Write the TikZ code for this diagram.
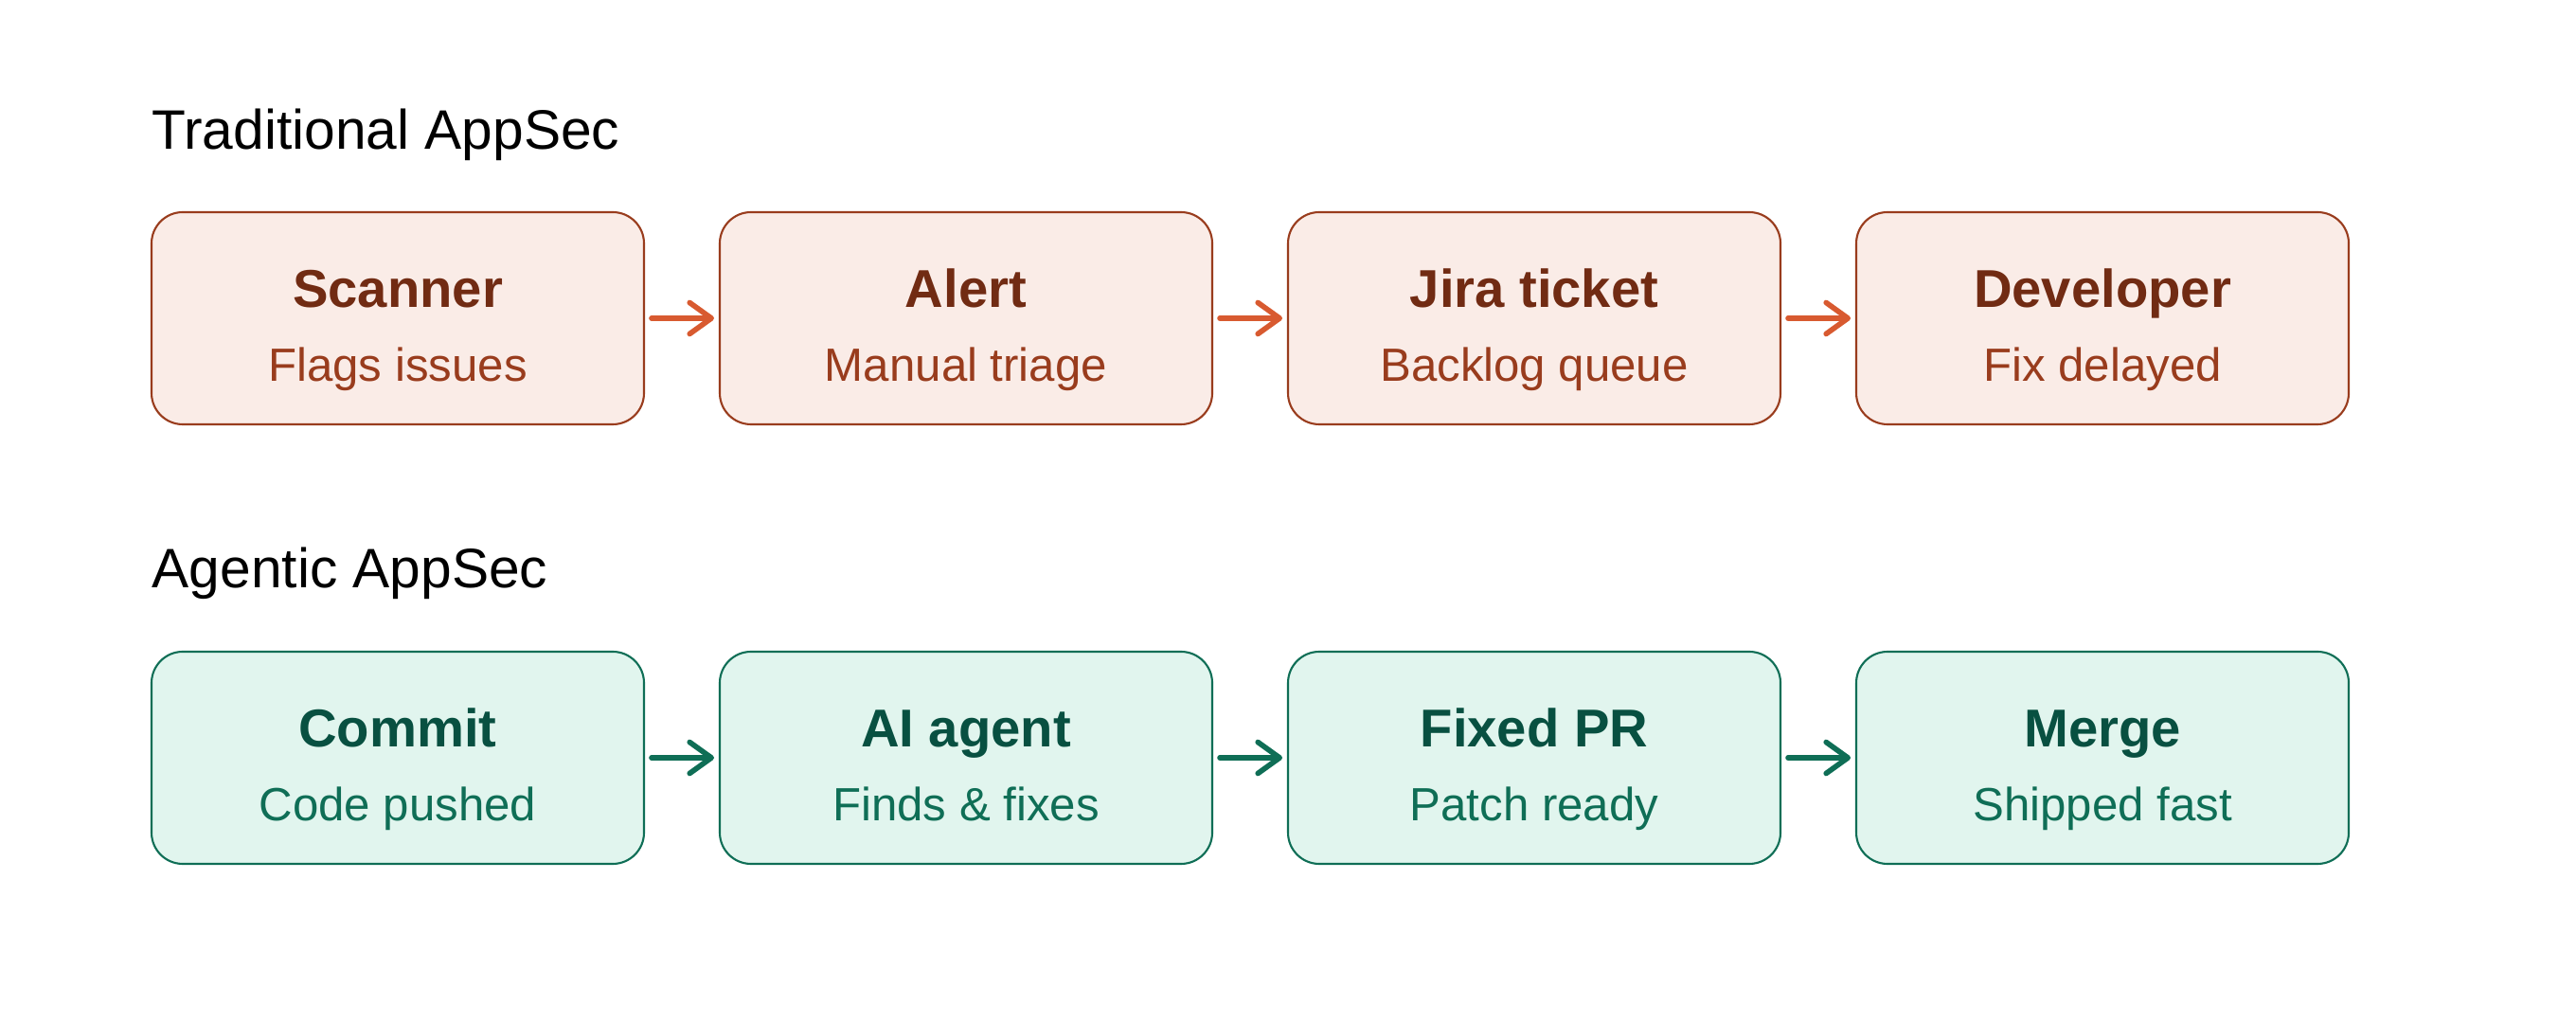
\documentclass[tikz,border=0pt]{standalone}
\usepackage{fontspec}
\setmainfont{Liberation Sans}
\usetikzlibrary{positioning,arrows.meta}
\definecolor{coralfill}{HTML}{FAECE7}
\definecolor{coralline}{HTML}{993C1D}
\definecolor{coraldark}{HTML}{712B13}
\definecolor{coralarrow}{HTML}{D85A30}
\definecolor{tealfill}{HTML}{E1F5EE}
\definecolor{tealline}{HTML}{0F6E56}
\definecolor{tealdark}{HTML}{085041}

\begin{document}
\begin{tikzpicture}[
        box/.style={rectangle, rounded corners=0.33cm, line width=0.6pt, outer sep=0pt, minimum width=5.2cm, minimum height=2.24cm},
        oldbox/.style={box, draw=coralline, fill=coralfill},
        newbox/.style={box, draw=tealline, fill=tealfill},
        heading/.style={anchor=base west, inner sep=0pt, font=\fontsize{16.7}{20}\selectfont},
        boxtitle/.style={anchor=base, font=\fontsize{16}{19}\selectfont\bfseries},
        boxsub/.style={anchor=base, font=\fontsize{14}{17}\selectfont},
        flow/.style={-{Straight Barb[length=2.3mm,width=3.3mm,round]}, line width=1.6pt, line cap=round, shorten <=0.08cm, shorten >=0.06cm}]
        \useasboundingbox (0,0) rectangle (27.2,10.8);
        \node[heading] (tradhead) at (1.6,9.22) {Traditional AppSec};
        \node[oldbox] (scanner) at (4.2,7.44) {};
        \node[oldbox] (alert) [right=0.8cm of scanner] {};
        \node[oldbox] (jira) [right=0.8cm of alert] {};
        \node[oldbox] (developer) [right=0.8cm of jira] {};
        \node[boxtitle,text=coraldark] (scannertitle) at ([yshift=0.11cm]scanner.center) {Scanner};
        \node[boxsub,text=coralline] (scannersub) at ([yshift=-0.67cm]scanner.center) {Flags issues};
        \node[boxtitle,text=coraldark] (alerttitle) at ([yshift=0.11cm]alert.center) {Alert};
        \node[boxsub,text=coralline] (alertsub) at ([yshift=-0.67cm]alert.center) {Manual triage};
        \node[boxtitle,text=coraldark] (jiratitle) at ([yshift=0.11cm]jira.center) {Jira ticket};
        \node[boxsub,text=coralline] (jirasub) at ([yshift=-0.67cm]jira.center) {Backlog queue};
        \node[boxtitle,text=coraldark] (developertitle) at ([yshift=0.11cm]developer.center) {Developer};
        \node[boxsub,text=coralline] (developersub) at ([yshift=-0.67cm]developer.center) {Fix delayed};
        \draw[flow,coralarrow] (scanner.east) -- (alert.west);
        \draw[flow,coralarrow] (alert.east) -- (jira.west);
        \draw[flow,coralarrow] (jira.east) -- (developer.west);
        \node[heading] (agenthead) at (1.6,4.59) {Agentic AppSec};
        \node[newbox] (commit) at (4.2,2.8) {};
        \node[newbox] (agent) [right=0.8cm of commit] {};
        \node[newbox] (fixedpr) [right=0.8cm of agent] {};
        \node[newbox] (merge) [right=0.8cm of fixedpr] {};
        \node[boxtitle,text=tealdark] (committitle) at ([yshift=0.11cm]commit.center) {Commit};
        \node[boxsub,text=tealline] (commitsub) at ([yshift=-0.67cm]commit.center) {Code pushed};
        \node[boxtitle,text=tealdark] (agenttitle) at ([yshift=0.11cm]agent.center) {AI agent};
        \node[boxsub,text=tealline] (agentsub) at ([yshift=-0.67cm]agent.center) {Finds \& fixes};
        \node[boxtitle,text=tealdark] (fixedprtitle) at ([yshift=0.11cm]fixedpr.center) {Fixed PR};
        \node[boxsub,text=tealline] (fixedprsub) at ([yshift=-0.67cm]fixedpr.center) {Patch ready};
        \node[boxtitle,text=tealdark] (mergetitle) at ([yshift=0.11cm]merge.center) {Merge};
        \node[boxsub,text=tealline] (mergesub) at ([yshift=-0.67cm]merge.center) {Shipped fast};
        \draw[flow,tealline] (commit.east) -- (agent.west);
        \draw[flow,tealline] (agent.east) -- (fixedpr.west);
        \draw[flow,tealline] (fixedpr.east) -- (merge.west);
\end{tikzpicture}
\end{document}
